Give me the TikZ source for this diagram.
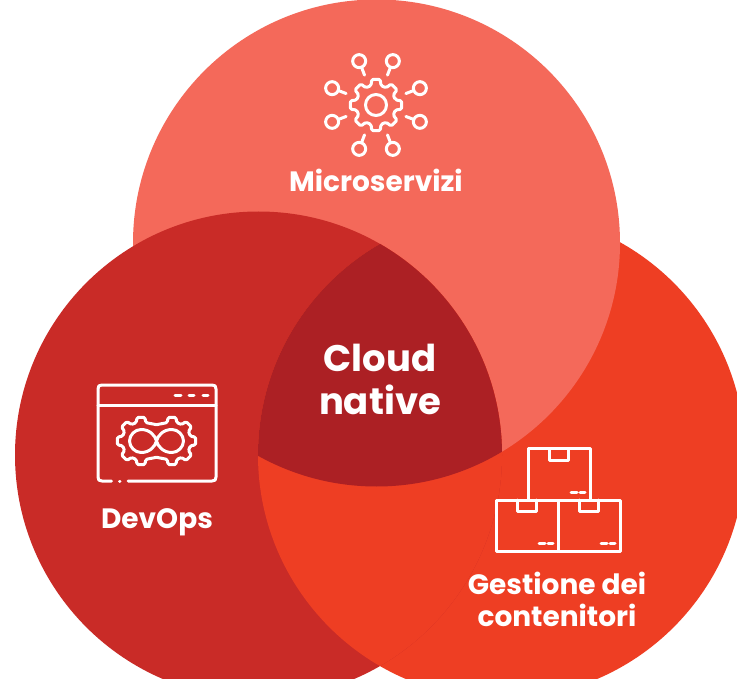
\documentclass[tikz,border=0pt]{standalone}
\usepackage{fontspec}
\setmainfont{Poppins}
\definecolor{salmon}{HTML}{F4695A}
\definecolor{redc}{HTML}{C92B27}
\definecolor{orangec}{HTML}{EE3E23}
\definecolor{darkc}{HTML}{AC2024}
\newcommand{\gearpath}[3]{% teeth, outer, inner
  \pgfmathsetmacro{\st}{360/#1}
  \draw[icon,rounded corners=1.5pt]
    (-0.32*\st:#3)
    \foreach \k in {1,...,#1}{
      -- ({(\k-1)*\st-0.21*\st}:#2) -- ({(\k-1)*\st+0.21*\st}:#2)
      -- ({(\k-1)*\st+0.32*\st}:#3) -- ({(\k-1)*\st+0.68*\st}:#3)
    } -- cycle;
}
\newcommand{\halfgear}{%
  \draw[icon,rounded corners=1.5pt] (15.5,-16.3)
    \foreach \a in {-90,-135,-180,-225,-270}{
      -- ({\a+14.4}:19) -- ({\a+9.5}:24) -- ({\a-9.5}:24) -- ({\a-14.4}:19)
    } -- (15.5,16.3);
}
\tikzset{
  icon/.style={draw=white,line width=3pt,line cap=round,line join=round},
  lab/.style={text=white,font=\bfseries,align=center,inner sep=0pt},
}
\begin{document}
\begin{tikzpicture}[x=1pt,y=-1pt]
\useasboundingbox (0,0) rectangle (737,679);
\fill[white] (0,0) rectangle (737,679);
\def\rr{243.5}
\coordinate (cT) at (376.5,243);
\coordinate (cL) at (258.5,455);
\coordinate (cR) at (501.5,455);
\begin{scope}
\clip (0,0) rectangle (737,679);
\fill[orangec] (cR) circle[radius=\rr pt];
\fill[salmon] (cT) circle[radius=\rr pt];
\fill[redc] (cL) circle[radius=\rr pt];
\begin{scope}
  \clip (cL) circle[radius=\rr pt];
  \fill[orangec] (cR) circle[radius=\rr pt];
  \clip (cT) circle[radius=\rr pt];
  \fill[darkc] (cR) circle[radius=\rr pt];
\end{scope}
\end{scope}
% microservices icon
\begin{scope}[shift={(376,105)}]
  \gearpath{8}{26}{20}
  \draw[icon] (0,0) circle[radius=10.5pt];
  \foreach \a in {21,69,-21,-69,111,159,201,249}{
    \draw[icon] (\a:47) circle[radius=6.5pt];
    \draw[icon] (\a:40.5) -- (\a:32);
  }
\end{scope}
% devops icon
\draw[icon] (111.5,481) -- (102,481) .. controls (99,481) and (98,480) .. (98,477) -- (98,389) .. controls (98,386) and (99,385) .. (102,385) -- (212,385) .. controls (215,385) and (216,386) .. (216,389) -- (216,477) .. controls (216,480) and (215,481) .. (212,481) -- (128,481);
\draw[icon] (98,405.5) -- (216,405.5);
\draw[icon] (175,395.5) -- (181,395.5) (189,395.5) -- (194,395.5) (203,395.5) -- (208,395.5);
\draw[icon] (119.5,481) -- (120,481);
\begin{scope}[shift={(141,441)}]\halfgear\end{scope}
\begin{scope}[shift={(172,441)},xscale=-1]\halfgear\end{scope}
\draw[icon] (156.5,441) .. controls (155,435.5) and (150,429.5) .. (141,429.5) .. controls (135,429.5) and (129.5,435) .. (129.5,441) .. controls (129.5,447) and (135,452.5) .. (141,452.5) .. controls (150,452.5) and (155,446.5) .. (156.5,441) .. controls (158,435.5) and (163,429.5) .. (172,429.5) .. controls (178,429.5) and (183.5,435) .. (183.5,441) .. controls (183.5,447) and (178,452.5) .. (172,452.5) .. controls (163,452.5) and (158,446.5) .. (156.5,441) -- cycle;
% containers icon
\draw[icon] (528,500) -- (528,448.5) -- (590.5,448.5) -- (590.5,500);
\draw[icon] (549.5,448.5) -- (549.5,460) -- (568.5,460) -- (568.5,448.5);
\draw[icon] (571,492) -- (577,492) (580,492) -- (585,492);
\draw[icon] (496,500) rectangle (558,551);
\draw[icon] (558,500) rectangle (620,551);
\draw[icon] (517.5,500) -- (517.5,511) -- (536.5,511) -- (536.5,500);
\draw[icon] (579.5,500) -- (579.5,511) -- (598.5,511) -- (598.5,500);
\draw[icon] (539,543) -- (545,543) (548,543) -- (553,543);
\draw[icon] (601,543) -- (607,543) (610,543) -- (615,543);
% labels
\node[lab,font=\bfseries\fontsize{28}{28}\selectfont] (micro) at (376,180) {Microservizi};
\node[lab,font=\bfseries\fontsize{28}{28}\selectfont] (devops) at (157,522) {DevOps};
\node[lab,font=\bfseries\fontsize{28}{32}\selectfont] (gest) at (557,599.5) {Gestione dei\\[0pt]contenitori};
\node[lab,font=\bfseries\fontsize{37}{43}\selectfont] (cloud) at (380,379) {Cloud\\[0pt]native};
\end{tikzpicture}
\end{document}
